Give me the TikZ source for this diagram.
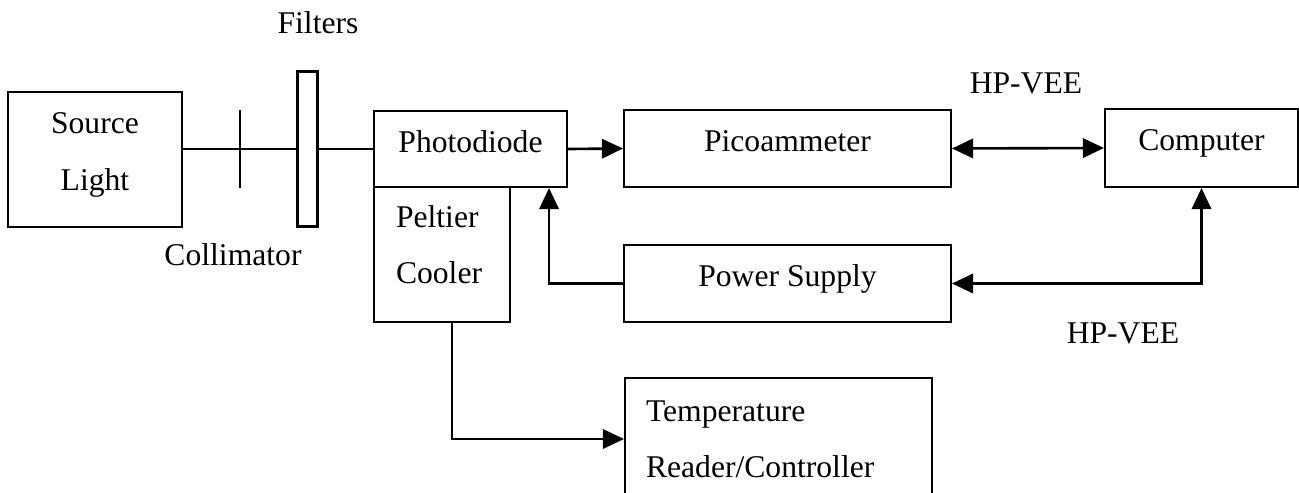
\documentclass[tikz,border=0pt]{standalone}
\usepackage{fontspec}
\setmainfont{Liberation Serif}
\usetikzlibrary{positioning,arrows.meta}

\begin{document}
\begin{tikzpicture}[
			x=0.02cm, y=-0.02cm,
			every node/.style={
				font=\fontsize{18}{32}\selectfont
			},
			box/.style={draw, line width=1.2pt, inner sep=0pt},
			raised/.style={text depth=9pt},
			lbox/.style={box, align=left},
			link/.style={line width=1.2pt},
			arrow/.style={link, line width=1.5pt, -{Triangle[length=12pt,width=11pt]}},
			biarrow/.style={link, line width=1.5pt, {Triangle[length=12pt,width=11pt]}-{Triangle[length=12pt,width=11pt]}}
			]
			
			\useasboundingbox (0,0) rectangle (1299,493);
			\clip (0,0) rectangle (1299,493);
			
			\node[box, raised, align=center, minimum width=3.48cm, minimum height=2.7cm] (src) at (95,159.5) {Source\\Light};
			\node[box, minimum width=0.4cm, minimum height=3.1cm] (filt) at (307.5,149) {};
			\node[inner sep=0pt, minimum width=0pt, minimum height=1.56cm] (coll) at (240,149) {};
			
			\node[box, raised, minimum width=3.86cm, minimum height=1.52cm] (diode) at (470.5,149) {Photodiode};
			\node[lbox, text width=1.84cm, inner xsep=0.44cm, minimum height=2.7cm] (peltier) at (442,254.5) {Peltier\\Cooler\rule[-11pt]{0pt}{0pt}};
			
			\node[box, raised, minimum width=6.54cm, minimum height=1.54cm] (pico) at (787.5,148.5) {Picoammeter};
			\node[box, raised, minimum width=3.86cm, minimum height=1.56cm] (comp) at (1201.5,148) {Computer};
			\node[box, raised, minimum width=6.54cm, minimum height=1.54cm] (power) at (787.5,283.5) {Power Supply};
			\node[lbox, text width=5.3cm, inner xsep=0.42cm, minimum height=2.44cm] (temp) at (778.5,439) {Temperature\\Reader/Controller};
			
			\node (filtlbl) at (318,23) {Filters};
			\node (colllbl) at (233,255) {Collimator};
			\node (hptop) at (1026,83) {HP-VEE};
			\node (hpbot) at (1123,333) {HP-VEE};
			
			\draw[link] (src.east |- filt.west) -- (filt.west);
			\draw[link] (coll.north) -- (coll.south);
			\draw[link] (filt.east) -- (diode.west);
			
			\draw[arrow] (diode.east) -- (pico.west);
			\draw[biarrow] (pico.east) -- (comp.west);
			\draw[biarrow] (power.east) -| (comp.south);
			\draw[arrow] (power.west) -| ([xshift=-0.38cm]diode.south east);
			\draw[arrow] ([xshift=0.2cm]peltier.south) |- (temp.west);
			
		\end{tikzpicture}
\end{document}
